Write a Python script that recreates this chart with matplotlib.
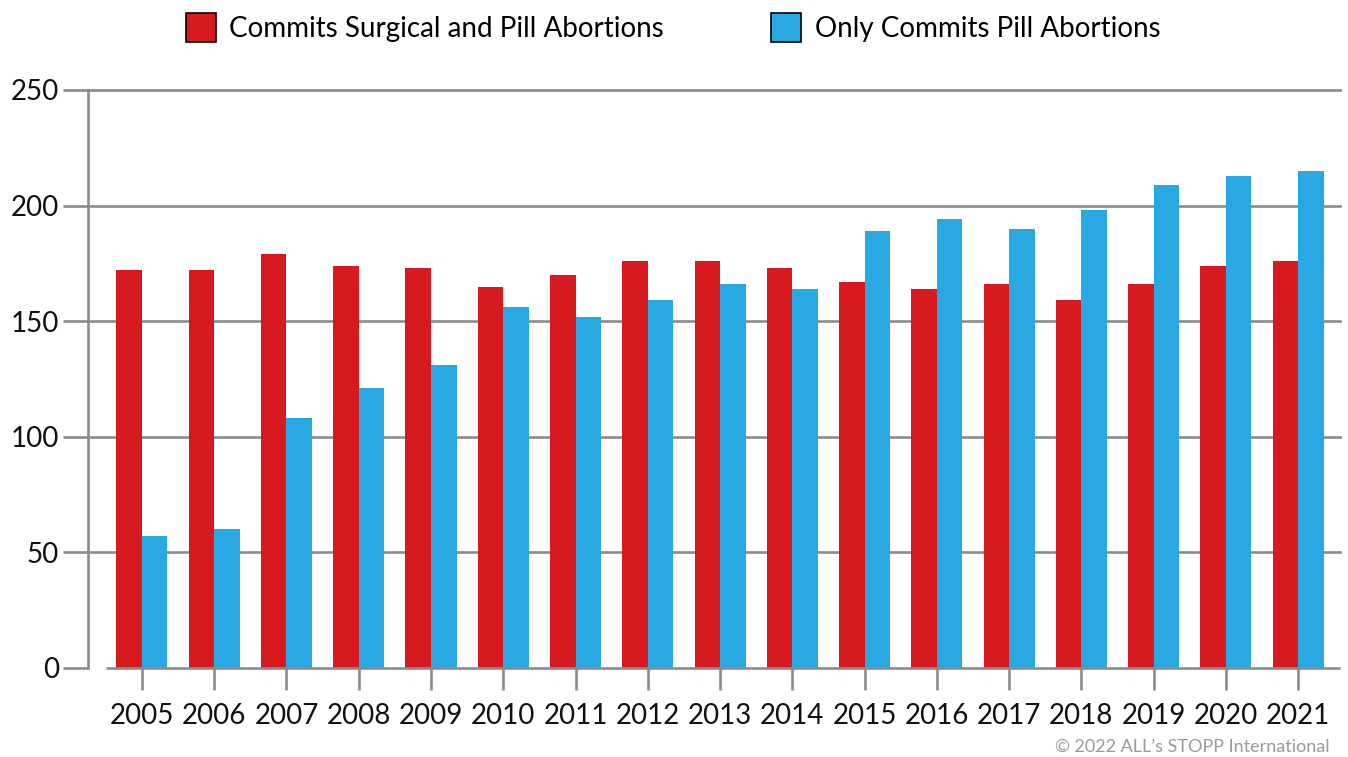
import matplotlib
matplotlib.use("Agg")
import matplotlib.pyplot as plt
from matplotlib.patches import Patch
import numpy as np

plt.rcParams['font.family'] = ['Lato', 'DejaVu Sans']

years = [str(y) for y in range(2005, 2022)]
surgical_and_pill = [172, 172, 179, 174, 173, 165, 170, 176, 176, 173, 167, 164, 166, 159, 166, 174, 176]
pill_only = [57, 60, 108, 121, 131, 156, 152, 159, 166, 164, 189, 194, 190, 198, 209, 213, 215]
series_names = ["Commits Surgical and Pill Abortions", "Only Commits Pill Abortions"]
yticks = [0, 50, 100, 150, 200, 250]

RED = "#D71920"
BLUE = "#29A8E2"
GRAY = "#8C8C8E"

fig = plt.figure(figsize=(13.48, 7.57), dpi=100)
ax = fig.add_axes([88/1348, 1-668/757, (1340-88)/1348, (668-90)/757])

x = np.arange(len(years))
w = 0.353
ax.bar(x - w/2, surgical_and_pill, width=w, color=RED, zorder=3)
ax.bar(x + w/2, pill_only, width=w, color=BLUE, zorder=3)

ax.set_xlim(-0.747, 16.58)
ax.set_ylim(0, 250)

for yv in yticks[1:]:
    ax.axhline(yv, color=GRAY, lw=1.9, zorder=1, clip_on=False)
ax.hlines(0, -0.5, 16.58, color=GRAY, lw=1.9, zorder=4, clip_on=False)

for s in ['top', 'right', 'bottom']:
    ax.spines[s].set_visible(False)
ax.spines['left'].set_color(GRAY)
ax.spines['left'].set_linewidth(1.9)

ax.set_yticks(yticks)
ax.set_yticklabels([str(v) for v in yticks])
ax.set_xticks(x)
ax.set_xticklabels(years)
ax.tick_params(axis='y', length=18, width=1.9, color=GRAY, pad=3, labelsize=20, labelcolor='#111111')
ax.tick_params(axis='x', length=16, width=1.9, color=GRAY, pad=9, labelsize=20, labelcolor='#111111')

handles = [Patch(facecolor=RED, edgecolor='black', lw=1.2),
           Patch(facecolor=BLUE, edgecolor='black', lw=1.2)]
fig.legend(handles, series_names, loc='center', bbox_to_anchor=(0.4993, 0.964), ncol=2,
           frameon=False, fontsize=20, handlelength=1.08, handleheight=1.25,
           handletextpad=0.5, columnspacing=3.85)

fig.text(1330/1348, 1-747/757, "\u00a9 2022 ALL\u2019s STOPP International", ha='right', va='center',
         fontsize=13, color='#9A9A9A')

fig.savefig("out.png", dpi=100)
